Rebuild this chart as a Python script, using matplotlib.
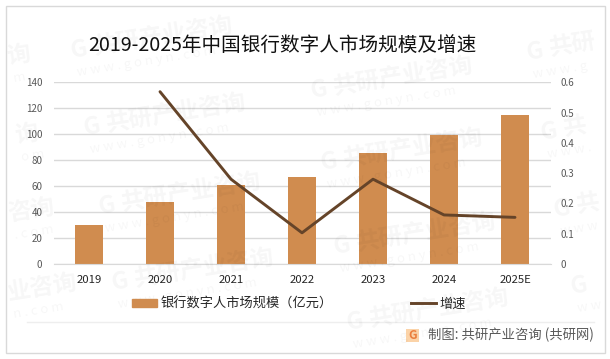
import matplotlib
matplotlib.use('Agg')
import matplotlib.pyplot as plt
from matplotlib.patches import Rectangle
from matplotlib.lines import Line2D

plt.rcParams['font.family'] = ['Noto Sans CJK SC', 'DejaVu Sans']

years = ['2019', '2020', '2021', '2022', '2023', '2024', '2025E']
market_size = [30, 47.8, 60.9, 67, 85.5, 99.4, 114.8]
growth = [None, 0.569, 0.28, 0.103, 0.28, 0.162, 0.154]
left_ticks = [0, 20, 40, 60, 80, 100, 120, 140]
right_ticks = [0, 0.1, 0.2, 0.3, 0.4, 0.5, 0.6]
right_labels = ['0', '0.1', '0.2', '0.3', '0.4', '0.5', '0.6']

title = '2019-2025年中国银行数字人市场规模及增速'
bar_name = '银行数字人市场规模（亿元）'
line_name = '增速'
source = '制图: 共研产业咨询 (共研网)'

W, H = 610, 359
BAR_COLOR = '#d08c4f'
LINE_COLOR = '#654429'
GRID_COLOR = '#d9d9d9'

full_mark = '共研产业咨询'
full_url = 'w w w . g o n y n . c o m'

# watermarks: left x, baseline y in pixels from the top left, then the text and url seen there
marks = [
    (72, 58, 'G', full_mark, full_url),
    (528, 60, 'G', '共研', 'w w w . g'),
    (85, 135, 'G', full_mark, full_url),
    (312, 98, 'G', full_mark, full_url),
    (542, 140, 'G', '共', 'w w w .'),
    (100, 214, 'G', full_mark, full_url),
    (322, 170, 'G', full_mark, full_url),
    (555, 217, 'G', '共', 'w w w'),
    (113, 290, 'G', full_mark, full_url),
    (335, 254, 'G', full_mark, full_url),
    (572, 294, 'G', '', 'w w'),
    (348, 330, 'G', full_mark, full_url),
    (8, 64, '', '询', 'm'),
    (16, 143, '', '询', 'o m'),
    (9, 221, '', '咨询', '. c o m'),
    (8, 300, '', '业咨询', 'n . c o m'),
]


def fx(x):
    return x / W


def fy(y):
    return 1 - y / H


fig = plt.figure(figsize=(W / 100, H / 100), dpi=100, facecolor='white')

ax = fig.add_axes([fx(53.5), fy(264), (550.5 - 53.5) / W, (264 - 82.3) / H])
ax.bar(years, market_size, width=0.394, color=BAR_COLOR, zorder=2)
ax.set_xlim(-0.5, 6.5)
ax.set_ylim(0, 140)
ax.set_yticks(left_ticks)
ax.grid(axis='y', color=GRID_COLOR, linewidth=1, zorder=0)
ax.set_axisbelow(True)
ax.tick_params(axis='y', length=0, labelsize=7, labelcolor='#595959', pad=8)
ax.tick_params(axis='x', length=0, labelsize=8.2, labelcolor='#262626', pad=8)
for side in ['top', 'left', 'right']:
    ax.spines[side].set_visible(False)
ax.spines['bottom'].set_color(GRID_COLOR)

ax2 = ax.twinx()
ax2.plot(years[1:], growth[1:], color=LINE_COLOR, linewidth=2.1,
         solid_capstyle='round', solid_joinstyle='round', zorder=3)
ax2.set_ylim(0, 0.6)
ax2.set_yticks(right_ticks)
ax2.set_yticklabels(right_labels)
ax2.tick_params(axis='y', length=0, labelsize=7, labelcolor='#595959', pad=7)
for side in ['top', 'left', 'right', 'bottom']:
    ax2.spines[side].set_visible(False)

fig.text(fx(282.5), fy(46), title, fontsize=14.1, color='#111111', ha='center', va='center')

handles = [Rectangle((0, 0), 1, 1, color=BAR_COLOR),
           Line2D([0], [0], color=LINE_COLOR, linewidth=2.1)]
fig.legend(handles, [bar_name, line_name], ncol=2, loc='center',
           bbox_to_anchor=(fx(299), fy(304)), frameon=False, fontsize=9.5,
           handlelength=1.9, handleheight=0.55, handletextpad=0.3,
           columnspacing=5.9, labelcolor='#262626')

# outer frame and footer
fig.add_artist(Rectangle((fx(5.5), fy(353)), (605 - 5.5) / W, (353 - 5.5) / H, fill=False,
                         edgecolor='#d9d9d9', linewidth=1, transform=fig.transFigure))
fig.add_artist(Line2D([fx(27), fx(594)], [fy(321.5), fy(321.5)], color='#eeeeee', linewidth=1))
fig.add_artist(Rectangle((fx(406), fy(342)), 13 / W, 13 / H, facecolor='#fbd3a8',
                         edgecolor='none', transform=fig.transFigure))
fig.text(fx(412.5), fy(335.5), 'G', fontsize=8.5, fontweight='bold', color='#ee7f3c',
         ha='center', va='center')
fig.text(fx(428), fy(335), source, fontsize=9.6, fontweight='medium', color='#595959',
         ha='left', va='center')

# watermarks
for x, y, logo, text, url in marks:
    kw = dict(color='#000000', alpha=0.035, rotation=9, rotation_mode='anchor',
              ha='left', va='baseline', zorder=5)
    if logo:
        fig.text(fx(x), fy(y), logo, fontsize=17, fontweight='bold', **kw)
        fig.text(fx(x + 23), fy(y - 4), text, fontsize=17, fontweight='bold', **kw)
    else:
        fig.text(fx(x), fy(y), text, fontsize=17, fontweight='bold', **kw)
    fig.text(fx(x + 6), fy(y + 18), url, fontsize=9.5, **kw)

fig.savefig('out.png', dpi=100)
